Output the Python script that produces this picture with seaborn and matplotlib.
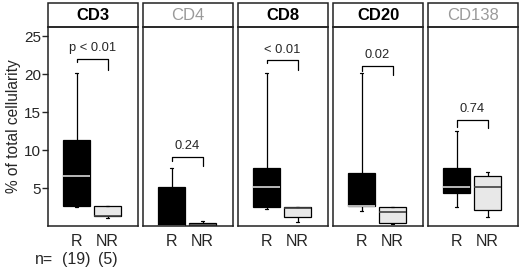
import numpy as np
import pandas as pd
import seaborn as sns
import matplotlib.pyplot as plt
from matplotlib.patches import Rectangle

# five-number summaries: min, q1, median, q3, max
markers = ["CD3", "CD4", "CD8", "CD20", "CD138"]
title_bold = [True, False, True, True, False]
groups = ["R", "NR"]

cd3_r = [2.5, 2.67, 6.6, 11.35, 20.2]
cd3_nr = [1.1, 1.3, 1.3, 2.6, 2.6]
cd4_r = [0.0, 0.0, 0.0, 5.1, 7.7]
cd4_nr = [0.0, 0.0, 0.15, 0.45, 0.6]
cd8_r = [2.3, 2.45, 5.1, 7.6, 20.2]
cd8_nr = [0.57, 1.15, 2.4, 2.55, 2.55]
cd20_r = [2.0, 2.6, 2.6, 7.0, 20.2]
cd20_nr = [0.26, 0.4, 1.8, 2.55, 2.55]
cd138_r = [2.45, 4.35, 5.2, 7.6, 12.5]
cd138_nr = [1.15, 2.07, 5.2, 6.6, 7.15]

# significance brackets
p_labels = ["p < 0.01", "0.24", "< 0.01", "0.02", "0.74"]
bracket_top = [22.0, 9.1, 21.8, 21.1, 14.0]
bracket_left = [21.6, 8.6, 21.4, 20.4, 13.1]
bracket_right = [20.6, 7.85, 20.6, 19.9, 12.85]

n_labels = ["(19)", "(5)"]

values = {"CD3": (cd3_r, cd3_nr), "CD4": (cd4_r, cd4_nr), "CD8": (cd8_r, cd8_nr),
          "CD20": (cd20_r, cd20_nr), "CD138": (cd138_r, cd138_nr)}
rows = []
for m in markers:
    for g, vals in zip(groups, values[m]):
        for v in vals:
            rows.append({"marker": m, "group": g, "value": v})
df = pd.DataFrame(rows)

sns.set_style("ticks")
plt.rcParams['font.family'] = ['Liberation Sans', 'DejaVu Sans']

fig = plt.figure(figsize=(5.2, 2.68), dpi=100)
W, H = 520.0, 268.0
box_colors = {"R": "black", "NR": "#e8e8e8"}
median_colors = ["#d8d8d8", "#404040"]

for k, m in enumerate(markers):
    left = 48 + 95 * k
    ax = fig.add_axes([left / W, (H - 226) / H, 90 / W, 199 / H])
    sub = df[df["marker"] == m]
    sns.boxplot(data=sub, x="group", y="value", hue="group", order=groups,
                hue_order=groups, palette=box_colors, saturation=1, legend=False,
                width=0.88, whis=(0, 100), linecolor="black", linewidth=0.9,
                ax=ax)
    for c, col in zip(ax.containers, median_colors):
        for med in c.medians:
            med.set_color(col)
            med.set_linewidth(1.2)
        for cap in c.caps:
            xd = cap.get_xdata()
            mid = np.mean(xd)
            cap.set_xdata([mid - 0.06, mid + 0.06])
    ax.set_xlim(-0.92, 1.98)
    ax.set_ylim(0, 26.2)
    ax.set_xlabel("")
    ax.set_ylabel("")
    for sp in ax.spines.values():
        sp.set_visible(True)
        sp.set_linewidth(1.1)
        sp.set_color("#222222")
    ax.tick_params(axis="x", length=0, pad=6, labelsize=11.5)
    if k == 0:
        ax.set_yticks([5, 10, 15, 20, 25])
        ax.tick_params(axis="y", length=4, width=1, labelsize=11, pad=1)
        ax.set_ylabel("% of total cellularity", fontsize=11.2, labelpad=2)
    else:
        ax.set_yticks([])

    # header strip
    ax.add_patch(Rectangle((0, 1), 1, 24 / 199, transform=ax.transAxes,
                           facecolor="white", edgecolor="#222222", lw=1.1,
                           clip_on=False))
    ax.text(0.5, 1 + 12 / 199, m, transform=ax.transAxes, ha="center",
            va="center", fontsize=12,
            fontweight="bold" if title_bold[k] else "normal",
            color="black" if title_bold[k] else "#9a9a9a")

    # bracket and p value
    ax.plot([0, 0, 1, 1], [bracket_left[k], bracket_top[k], bracket_top[k],
                           bracket_right[k]], color="black", lw=0.9)
    ax.text(0.5, bracket_top[k] + 0.6, p_labels[k], ha="center", va="bottom",
            fontsize=9.3)

    if k == 0:
        for xi, lab in zip([0, 1], n_labels):
            ax.annotate(lab, xy=(xi, 0), xycoords=("data", "axes fraction"),
                        xytext=(0, -24), textcoords="offset points",
                        ha="center", va="center", fontsize=11.5)
        ax.annotate("n=", xy=(-0.92, 0), xycoords=("data", "axes fraction"),
                    xytext=(-3, -24), textcoords="offset points",
                    ha="center", va="center", fontsize=11.5)

fig.savefig("out.png", dpi=100)
